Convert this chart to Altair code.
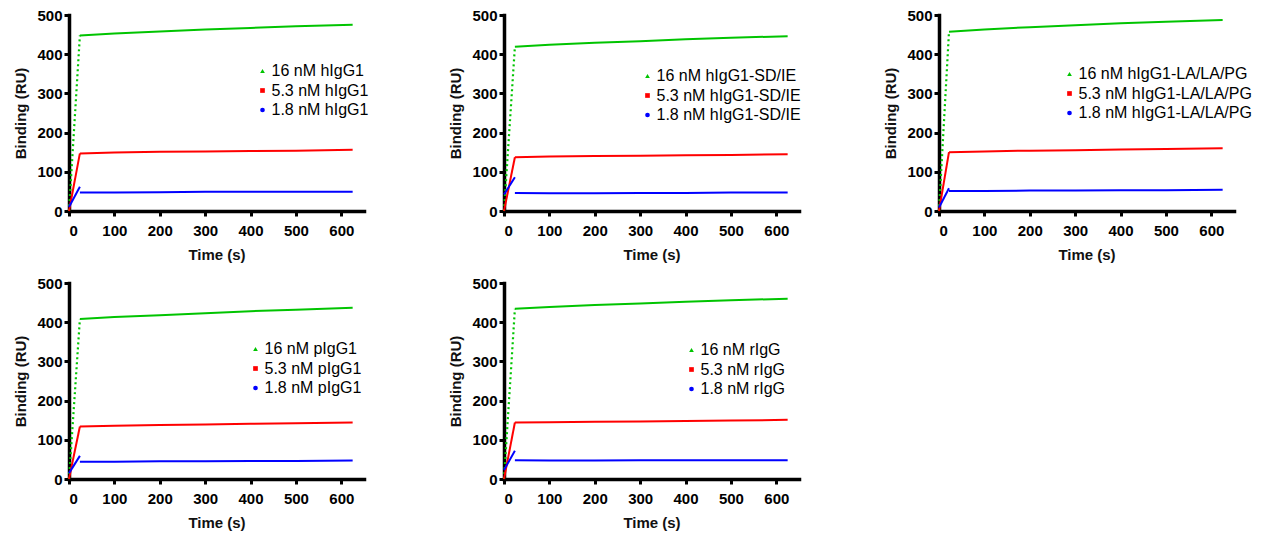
import altair as alt
import pandas as pd

# ---------------- data ----------------
antibodies = ["hIgG1", "hIgG1-SD/IE", "hIgG1-LA/LA/PG", "pIgG1", "rIgG"]
concs = ["16 nM", "5.3 nM", "1.8 nM"]
series_colors = ["#00c400", "#ff0000", "#0000ff"]
series_shapes = ["triangle-up", "square", "circle"]

# time at which association ends (s)
break_t = [24, 24, 22, 24, 24]
# dissociation-phase sample times after the break (s)
later_t = [100, 200, 300, 400, 500, 625]

# dissociation-phase values (RU) at [break] + later_t
green_plateau = [
    [448, 453, 458, 463, 467, 471, 475],
    [419, 424, 429, 433, 438, 442, 446],
    [457, 463, 469, 474, 479, 483, 487],
    [408, 413, 418, 423, 428, 432, 437],
    [434, 439, 444, 448, 452, 456, 460],
]
red_plateau = [
    [147, 149, 151, 152, 153, 154, 156],
    [137, 139, 140, 141, 142, 143, 145],
    [150, 152, 154, 155, 157, 158, 160],
    [134, 136, 138, 139, 141, 142, 144],
    [144, 145, 146, 147, 148, 149, 151],
]
blue_plateau = [
    [47, 47, 48, 49, 49, 49, 49],
    [46, 45, 45, 46, 46, 47, 47],
    [51, 51, 52, 52, 53, 53, 54],
    [44, 44, 45, 45, 46, 46, 47],
    [48, 47, 47, 48, 48, 48, 48],
]
# association phase: value at t=0 and at the break
green_rise_start = [0, 0, 0, 0, 0]
red_rise_start = [0, 0, 0, 0, 0]
blue_rise_start = [10, 42, 9, 15, 23]
blue_rise_end = [62, 86, 58, 59, 72]

# legend placement (symbol centre, first row centre) relative to plot origin
legend_cx = [192, 142, 129, 185, 186]
legend_cy = [55, 60, 58, 65, 66]

W, H = 295, 196
FONT = "Liberation Sans"


def panel(i):
    ab = antibodies[i]
    labels = [f"{c} {ab}" for c in concs]
    bt = break_t[i]
    rows = []
    plate = [green_plateau[i], red_plateau[i], blue_plateau[i]]
    rise_start = [green_rise_start[i], red_rise_start[i], blue_rise_start[i]]
    rise_end = [green_plateau[i][0], red_plateau[i][0], blue_rise_end[i]]
    for k in range(3):
        rows.append(dict(t=0, v=rise_start[k], k=k, seg="rise"))
        rows.append(dict(t=bt, v=rise_end[k], k=k, seg="rise"))
        for tt, vv in zip([bt] + later_t, plate[k]):
            rows.append(dict(t=tt, v=vv, k=k, seg="plateau"))
    df = pd.DataFrame(rows)
    leg_df = pd.DataFrame(
        dict(t=[later_t[-1]] * 3, v=[p[-1] for p in plate], label=labels)
    )

    x = alt.X(
        "t:Q",
        scale=alt.Scale(domain=[0, 650], nice=False),
        axis=alt.Axis(values=[0, 100, 200, 300, 400, 500, 600], title="Time (s)"),
    )
    y = alt.Y(
        "v:Q",
        scale=alt.Scale(domain=[0, 500], nice=False),
        axis=alt.Axis(values=[0, 100, 200, 300, 400, 500], title="Binding (RU)"),
    )

    base = alt.Chart(df)
    layers = []
    for k in range(3):
        for seg in ["rise", "plateau"]:
            dotted = (k == 0 and seg == "rise")
            mk = dict(strokeWidth=2.2, strokeDash=[2, 3]) if dotted else dict(strokeWidth=2)
            layers.append(
                base.transform_filter((alt.datum.k == k) & (alt.datum.seg == seg))
                .mark_line(color=series_colors[k], **mk)
                .encode(x=x, y=y)
            )

    leg = alt.Legend(
        orient="none",
        legendX=legend_cx[i] - 6.5,
        legendY=legend_cy[i] - 7,
        title=None,
        labelFont=FONT,
        labelFontSize=16,
        labelColor="#000000",
        labelOffset=1,
        labelLimit=0,
        symbolSize=22,
        symbolOpacity=1,
        rowPadding=3.5,
        padding=0,
    )
    cscale = alt.Scale(domain=labels, range=series_colors)
    sscale = alt.Scale(domain=labels, range=series_shapes)
    pts = (
        alt.Chart(leg_df)
        .mark_point(filled=True, opacity=0, size=22)
        .encode(
            x=x,
            y=y,
            color=alt.Color("label:N", scale=cscale, legend=leg),
            shape=alt.Shape("label:N", scale=sscale, legend=leg),
        )
    )
    return alt.layer(*layers, pts).properties(width=W, height=H)


chart = (
    alt.concat(*[panel(i) for i in range(5)], columns=3, spacing={"row": 72, "column": 140}, bounds="flush")
    .resolve_scale(color="independent", shape="independent")
    .resolve_legend(color="independent", shape="independent")
    .properties(padding={"left": 5, "top": 0, "right": 0, "bottom": 5})
    .configure_view(stroke=None)
    .configure_axis(
        grid=False,
        domainColor="#000000",
        domainWidth=3.5,
        domainCap="square",
        tickColor="#000000",
        tickWidth=3,
        tickSize=5,
        labelFont=FONT,
        labelFontSize=15,
        labelFontWeight="bold",
        labelColor="#000000",
        labelPadding=2,
        titleFont=FONT,
        titleFontSize=15,
        titleFontWeight="bold",
        titleColor="#111111",
    )
    .configure_axisY(titlePadding=8)
    .configure_axisX(titlePadding=9, labelPadding=7)
)

chart.save("out.html", embed_options={"renderer": "svg", "actions": False})
